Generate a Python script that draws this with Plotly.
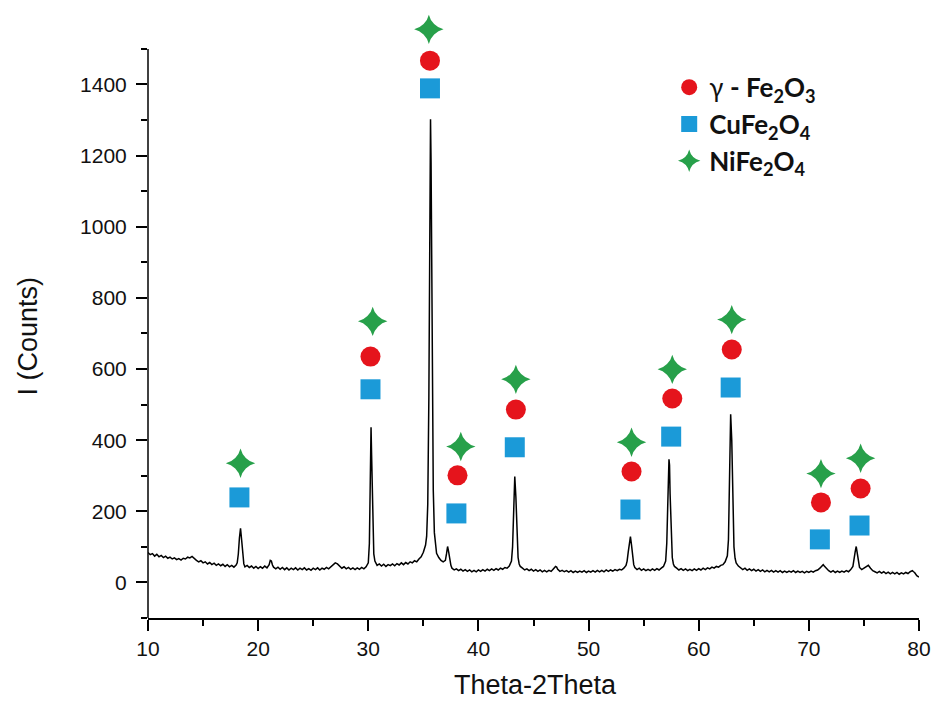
import plotly.graph_objects as go

# ---- XRD trace ----
two_theta = [
    10.0, 10.2, 10.4, 10.6, 10.8, 11.0, 11.2, 11.4, 11.6, 11.8, 12.0, 12.2, 12.4, 12.6, 12.8,
    13.0, 13.2, 13.4, 13.6, 13.8, 14.0, 14.2, 14.4, 14.6, 14.8, 15.0, 15.2, 15.4, 15.6, 15.8,
    16.0, 16.2, 16.4, 16.6, 16.8, 17.0, 17.2, 17.4, 17.6, 17.8, 18.0, 18.1, 18.2, 18.3, 18.4,
    18.5, 18.6, 18.7, 18.8, 19.0, 19.2, 19.4, 19.6, 19.8, 20.0, 20.2, 20.4, 20.6, 20.8, 21.0,
    21.1, 21.2, 21.3, 21.4, 21.6, 21.8, 22.0, 22.2, 22.4, 22.6, 22.8, 23.0, 23.2, 23.4, 23.6,
    23.8, 24.0, 24.2, 24.4, 24.6, 24.8, 25.0, 25.2, 25.4, 25.6, 25.8, 26.0, 26.2, 26.4, 26.6,
    26.8, 27.0, 27.2, 27.4, 27.6, 27.8, 28.0, 28.2, 28.4, 28.6, 28.8, 29.0, 29.2, 29.4, 29.6,
    29.8, 30.0, 30.1, 30.2, 30.25, 30.3, 30.4, 30.5, 30.6, 30.7, 30.8, 31.0, 31.2, 31.4, 31.6,
    31.8, 32.0, 32.2, 32.4, 32.6, 32.8, 33.0, 33.2, 33.4, 33.6, 33.8, 34.0, 34.2, 34.4, 34.6,
    34.8, 35.0, 35.2, 35.3, 35.4, 35.5, 35.6, 35.65, 35.7, 35.8, 35.9, 36.0, 36.1, 36.2, 36.4,
    36.6, 36.8, 37.0, 37.1, 37.2, 37.3, 37.4, 37.5, 37.6, 37.8, 38.0, 38.2, 38.4, 38.6, 38.8,
    39.0, 39.2, 39.4, 39.6, 39.8, 40.0, 40.2, 40.4, 40.6, 40.8, 41.0, 41.2, 41.4, 41.6, 41.8,
    42.0, 42.2, 42.4, 42.6, 42.8, 43.0, 43.1, 43.2, 43.3, 43.4, 43.5, 43.6, 43.7, 43.8, 44.0,
    44.2, 44.4, 44.6, 44.8, 45.0, 45.2, 45.4, 45.6, 45.8, 46.0, 46.2, 46.4, 46.6, 46.8, 47.0,
    47.1, 47.2, 47.4, 47.6, 47.8, 48.0, 48.2, 48.4, 48.6, 48.8, 49.0, 49.2, 49.4, 49.6, 49.8,
    50.0, 50.2, 50.4, 50.6, 50.8, 51.0, 51.2, 51.4, 51.6, 51.8, 52.0, 52.2, 52.4, 52.6, 52.8,
    53.0, 53.2, 53.4, 53.5, 53.6, 53.7, 53.8, 53.9, 54.0, 54.1, 54.2, 54.4, 54.6, 54.8, 55.0,
    55.2, 55.4, 55.6, 55.8, 56.0, 56.2, 56.4, 56.6, 56.8, 57.0, 57.1, 57.2, 57.3, 57.35, 57.4,
    57.5, 57.6, 57.7, 57.8, 58.0, 58.2, 58.4, 58.6, 58.8, 59.0, 59.2, 59.4, 59.6, 59.8, 60.0,
    60.2, 60.4, 60.6, 60.8, 61.0, 61.2, 61.4, 61.6, 61.8, 62.0, 62.2, 62.4, 62.6, 62.7, 62.8,
    62.9, 63.0, 63.1, 63.2, 63.3, 63.4, 63.6, 63.8, 64.0, 64.2, 64.4, 64.6, 64.8, 65.0, 65.2,
    65.4, 65.6, 65.8, 66.0, 66.2, 66.4, 66.6, 66.8, 67.0, 67.2, 67.4, 67.6, 67.8, 68.0, 68.2,
    68.4, 68.6, 68.8, 69.0, 69.2, 69.4, 69.6, 69.8, 70.0, 70.2, 70.4, 70.6, 70.8, 71.0, 71.2,
    71.3, 71.4, 71.6, 71.8, 72.0, 72.2, 72.4, 72.6, 72.8, 73.0, 73.2, 73.4, 73.6, 73.8, 74.0,
    74.1, 74.2, 74.3, 74.4, 74.5, 74.6, 74.8, 75.0, 75.2, 75.4, 75.6, 75.8, 76.0, 76.2, 76.4,
    76.6, 76.8, 77.0, 77.2, 77.4, 77.6, 77.8, 78.0, 78.2, 78.4, 78.6, 78.8, 79.0, 79.2, 79.4,
    79.5, 79.6, 79.8, 80.0,
]
counts = [
    84, 78, 81, 74, 79, 72, 76, 70, 74, 68, 71, 66, 69, 64, 67,
    63, 68, 66, 71, 69, 73, 66, 62, 58, 61, 55, 58, 52, 56, 50,
    54, 48, 52, 47, 51, 45, 50, 44, 48, 43, 49, 55, 80, 125, 152,
    120, 75, 52, 44, 48, 42, 46, 40, 45, 39, 44, 40, 46, 41, 50,
    62, 60, 49, 43, 38, 43, 37, 42, 36, 41, 35, 40, 36, 41, 35,
    40, 36, 41, 35, 39, 34, 40, 36, 41, 35, 40, 37, 42, 38, 44,
    49, 55, 52, 45, 40, 44, 38, 42, 37, 41, 36, 41, 37, 42, 38,
    44, 55, 110, 300, 436, 360, 150, 80, 60, 52, 48, 52, 46, 51, 45,
    50, 47, 52, 47, 53, 49, 55, 50, 56, 52, 58, 55, 61, 58, 66,
    72, 85, 105, 130, 220, 520, 1050, 1302, 1180, 650, 260, 140, 100, 82, 70,
    62, 58, 62, 80, 101, 85, 60, 48, 40, 35, 38, 33, 37, 32, 36,
    31, 35, 30, 34, 30, 35, 31, 36, 32, 37, 33, 38, 34, 39, 35,
    40, 37, 42, 40, 46, 60, 100, 200, 298, 240, 120, 70, 52, 45, 40,
    35, 38, 33, 37, 32, 36, 31, 35, 30, 34, 30, 34, 31, 38, 45,
    43, 37, 31, 34, 30, 33, 29, 33, 28, 32, 28, 32, 29, 33, 28,
    32, 29, 33, 29, 34, 30, 34, 30, 35, 31, 35, 32, 36, 33, 37,
    35, 40, 48, 60, 85, 115, 129, 105, 70, 50, 42, 36, 40, 34, 38,
    33, 37, 33, 38, 34, 39, 35, 40, 45, 60, 110, 230, 346, 330, 250,
    120, 70, 52, 45, 40, 35, 39, 34, 38, 33, 37, 33, 38, 34, 39,
    35, 40, 36, 41, 38, 43, 40, 45, 43, 48, 50, 58, 75, 120, 280,
    473, 400, 200, 100, 68, 55, 46, 40, 36, 40, 34, 38, 33, 37, 32,
    36, 31, 35, 30, 34, 30, 34, 29, 33, 29, 33, 28, 32, 28, 32,
    29, 33, 28, 32, 28, 31, 27, 31, 28, 32, 29, 33, 35, 40, 47,
    50, 46, 38, 33, 29, 33, 28, 32, 28, 32, 29, 33, 30, 36, 45,
    60, 85, 101, 80, 55, 42, 36, 40, 44, 48, 40, 33, 30, 27, 31,
    26, 30, 25, 29, 24, 28, 24, 28, 23, 27, 24, 28, 25, 30, 33,
    30, 28, 19, 15,
]

# ---- phase markers above the peaks ----
fe2o3_x = [30.2, 35.6, 38.1, 43.4, 53.9, 57.6, 63.0, 71.1, 74.7]
fe2o3_y = [635, 1467, 301, 486, 312, 517, 655, 225, 264]

cufe_x = [18.3, 30.2, 35.6, 38.0, 43.3, 53.8, 57.5, 62.9, 71.0, 74.6]
cufe_y = [239, 543, 1389, 194, 380, 205, 410, 548, 121, 160]

nife_x = [18.4, 30.4, 35.5, 38.4, 43.4, 53.9, 57.6, 63.0, 71.1, 74.7]
nife_y = [335, 734, 1555, 382, 571, 394, 599, 739, 306, 349]

x_ticks = [10, 20, 30, 40, 50, 60, 70, 80]
y_ticks = [0, 200, 400, 600, 800, 1000, 1200, 1400]
y_axis_span = [-100, 1500]

RED = "#e5141c"
BLUE = "#1b9ad8"
GREEN = "#27a04a"
INK = "#111111"

fig = go.Figure()
fig.add_trace(go.Scatter(
    x=two_theta, y=counts, mode="lines",
    line=dict(color="black", width=1.5),
    showlegend=False, hoverinfo="skip",
))
fig.add_trace(go.Scatter(
    x=fe2o3_x, y=fe2o3_y, mode="markers",
    marker=dict(symbol="circle", size=20, color=RED),
    name="γ <b>- Fe<sub>2</sub>O<sub>3</sub></b>", cliponaxis=False,
))
fig.add_trace(go.Scatter(
    x=cufe_x, y=cufe_y, mode="markers",
    marker=dict(symbol="square", size=20, color=BLUE),
    name="<b>CuFe<sub>2</sub>O<sub>4</sub></b>", cliponaxis=False,
))
fig.add_trace(go.Scatter(
    x=nife_x, y=nife_y, mode="markers",
    marker=dict(symbol="star-diamond", size=21, color=GREEN),
    name="<b>NiFe<sub>2</sub>O<sub>4</sub></b>", cliponaxis=False,
))

tickfont = dict(family="Liberation Sans, Arial", size=21, color=INK)

fig.update_layout(
    width=934, height=702,
    margin=dict(l=148, r=15, t=24, b=84),
    paper_bgcolor="white", plot_bgcolor="white",
    showlegend=True,
    legend=dict(
        x=0.676, y=0.933, xanchor="left", yanchor="top",
        font=dict(family="Lato, Open Sans, sans-serif", size=26, color=INK),
        bgcolor="rgba(0,0,0,0)", borderwidth=0,
        itemsizing="trace", itemwidth=30,
    ),
    xaxis=dict(
        range=[10, 80], tickvals=x_ticks, ticktext=[str(v) for v in x_ticks],
        showline=True, linecolor="black", linewidth=1.5, automargin=False,
        ticks="outside", ticklen=11, tickwidth=1.5, tickcolor="black",
        minor=dict(dtick=5, tick0=10, ticks="outside", ticklen=6, tickwidth=1.5, tickcolor="black"),
        showgrid=False, zeroline=False, tickfont=tickfont,
    ),
    yaxis=dict(
        range=[-100, 1570], tickvals=y_ticks, ticktext=[str(v) for v in y_ticks],
        showline=False, automargin=False,
        ticks="outside", ticklen=11, tickwidth=1.5, tickcolor="black",
        minor=dict(dtick=100, tick0=0, ticks="outside", ticklen=6, tickwidth=1.5, tickcolor="black"),
        showgrid=False, zeroline=False, tickfont=tickfont, ticklabelstandoff=5,
    ),
    shapes=[
        dict(type="line", xref="paper", yref="y", x0=0, x1=0,
             y0=y_axis_span[0], y1=y_axis_span[1],
             line=dict(color="black", width=1.5), layer="above"),
    ],
    annotations=[
        dict(text="Theta-2Theta", xref="paper", yref="paper", x=0.503, y=-0.113,
             xanchor="center", yanchor="middle", showarrow=False,
             font=dict(family="Liberation Sans, Arial", size=27, color=INK)),
        dict(text="I (Counts)", xref="paper", yref="paper", x=-0.156, y=0.475,
             xanchor="center", yanchor="middle", showarrow=False, textangle=-90,
             font=dict(family="Liberation Sans, Arial", size=27, color=INK)),
    ],
)

fig.write_html(
    "out.html",
    config={"displayModeBar": False},
    post_script="document.body.style.margin='0px';document.body.style.overflow='hidden';",
)
